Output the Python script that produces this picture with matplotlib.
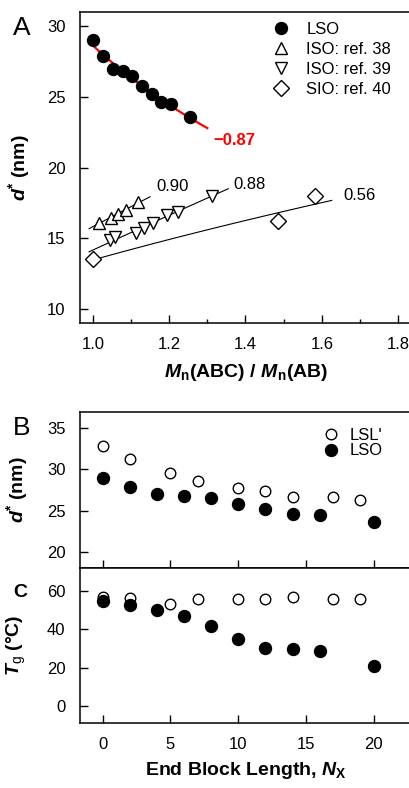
import numpy as np
import matplotlib
matplotlib.use("Agg")
from matplotlib import pyplot as plt
from matplotlib.ticker import MultipleLocator

plt.rcParams["font.family"] = "Liberation Sans"
plt.rcParams["mathtext.fontset"] = "custom"
plt.rcParams["mathtext.rm"] = "Liberation Sans"
plt.rcParams["mathtext.it"] = "Liberation Sans:italic"
plt.rcParams["mathtext.bf"] = "Liberation Sans:bold"
plt.rcParams["mathtext.bfit"] = "Liberation Sans:italic:bold"

# panel A : d* vs Mn(ABC)/Mn(AB)
lso_mn = [1.00, 1.027, 1.052, 1.078, 1.102, 1.128, 1.154, 1.178, 1.204, 1.254]
lso_d = [29.0, 27.9, 27.0, 26.8, 26.5, 25.8, 25.2, 24.6, 24.5, 23.6]
iso38_mn = [1.015, 1.047, 1.066, 1.088, 1.118]
iso38_d = [16.1, 16.45, 16.7, 17.0, 17.55]
iso39_mn = [1.045, 1.058, 1.112, 1.135, 1.158, 1.195, 1.222, 1.312]
iso39_d = [14.85, 15.05, 15.40, 15.70, 16.05, 16.65, 16.85, 17.95]
sio_mn = [1.00, 1.486, 1.582]
sio_d = [13.5, 16.2, 18.0]
exponents = [-0.87, 0.90, 0.88, 0.56]
fit_ranges = [(1.0, 1.30), (0.99, 1.15), (0.99, 1.355), (1.018, 1.626)]

# panels B and C : end block length
nx_lsl = [0, 2, 5, 7, 10, 12, 14, 17, 19]
d_lsl = [32.9, 31.3, 29.6, 28.6, 27.8, 27.4, 26.7, 26.7, 26.3]
tg_lsl = [57.0, 56.5, 53.4, 56.0, 56.0, 55.6, 56.6, 56.0, 55.6]
nx_lso = [0, 2, 4, 6, 8, 10, 12, 14, 16, 20]
d_lso = [29.0, 27.9, 27.0, 26.8, 26.5, 25.8, 25.2, 24.6, 24.5, 23.6]
tg_lso = [54.8, 52.9, 50.0, 46.9, 41.9, 35.0, 30.0, 29.8, 28.8, 20.8]

W, H = 409, 788
fig = plt.figure(figsize=(W / 100, H / 100), dpi=100)


def px_axes(left, top, right, bottom):
    return fig.add_axes([left / W, 1 - bottom / H, (right - left) / W, (bottom - top) / H])


def style(ax):
    for s in ax.spines.values():
        s.set_linewidth(1.1)
    ax.spines["right"].set_visible(False)
    ax.tick_params(which="both", direction="in", top=False, right=False,
                   labelsize=12, width=1.0)
    ax.tick_params(which="major", length=6)
    ax.tick_params(which="minor", length=3)
    ax.tick_params(axis="y", pad=10)
    ax.tick_params(axis="x", pad=10)


def power_line(ax, xs, ys, b, xr, **kw):
    # prefactor fitted for the quoted exponent
    a = np.exp(np.mean(np.log(ys) - b * np.log(xs)))
    xx = np.linspace(xr[0], xr[1], 50)
    ax.plot(xx, a * xx ** b, **kw)


axA = px_axes(79.5, 12, 413, 323)
axB = px_axes(79.5, 412, 413, 568)
axC = px_axes(79.5, 568, 413, 723)
for ax in (axA, axB, axC):
    style(ax)

# ---- A
series = [(lso_mn, lso_d), (iso38_mn, iso38_d), (iso39_mn, iso39_d), (sio_mn, sio_d)]
for (xs, ys), b, xr in zip(series, exponents, fit_ranges):
    if b < 0:
        power_line(axA, xs, ys, b, xr, color="#ff0000", lw=1.6, zorder=2)
    else:
        power_line(axA, xs, ys, b, xr, color="black", lw=0.8, zorder=2)

axA.plot(lso_mn, lso_d, "o", ms=8.6, color="black", label="LSO", zorder=3)
axA.plot(iso38_mn, iso38_d, "^", ms=9, mfc="white", mec="black", mew=1.0,
         label="ISO: ref. 38", zorder=3)
axA.plot(iso39_mn, iso39_d, "v", ms=9, mfc="white", mec="black", mew=1.0,
         label="ISO: ref. 39", zorder=3)
axA.plot(sio_mn, sio_d, "D", ms=8, mfc="white", mec="black", mew=1.0,
         label="SIO: ref. 40", zorder=3)

axA.text(1.315, 21.9, "\u22120.87", color="#ff0000", fontsize=12,
         fontweight="bold", va="center")
axA.text(1.167, 18.65, "0.90", fontsize=12, va="center")
axA.text(1.368, 18.77, "0.88", fontsize=12, va="center")
axA.text(1.657, 17.99, "0.56", fontsize=12, va="center")

axA.set_xlim(0.965, 1.839)
axA.set_ylim(9.0, 31.0)
axA.xaxis.set_major_locator(MultipleLocator(0.2))
axA.xaxis.set_minor_locator(MultipleLocator(0.1))
axA.yaxis.set_major_locator(MultipleLocator(5))
axA.xaxis.set_major_formatter(matplotlib.ticker.FormatStrFormatter("%.1f"))
axA.set_xlabel(r"$\mathbfit{M}_{\mathbf{n}}$(ABC) / $\mathbfit{M}_{\mathbf{n}}$(AB)",
               fontsize=14, fontweight="bold", labelpad=7)
axA.set_ylabel(r"$\mathbfit{d}^{\mathbf{*}}$ (nm)", fontsize=14, fontweight="bold")
axA.yaxis.set_label_coords(-0.142, 0.5)
axA.legend(loc="upper left", bbox_to_anchor=(0.58, 0.967), frameon=False,
           fontsize=12, handlelength=1.0, handletextpad=1.0, labelspacing=0.3,
           borderpad=0, borderaxespad=0, numpoints=1)

# ---- B
axB.plot(nx_lsl, d_lsl, "o", ms=7.6, mfc="white", mec="black", mew=1.0, label="LSL'")
axB.plot(nx_lso, d_lso, "o", ms=8.6, color="black", label="LSO")
axB.set_xlim(-1.7, 22.88)
axB.set_ylim(18, 37)
axB.xaxis.set_major_locator(MultipleLocator(5))
axB.yaxis.set_major_locator(MultipleLocator(5))
axB.tick_params(axis="x", labelbottom=False)
axB.set_ylabel(r"$\mathbfit{d}^{\mathbf{*}}$ (nm)", fontsize=14, fontweight="bold")
axB.yaxis.set_label_coords(-0.148, 0.5)
axB.legend(loc="upper left", bbox_to_anchor=(0.735, 0.9), frameon=False,
           fontsize=12, handlelength=0.8, handletextpad=0.7, labelspacing=0.05,
           borderpad=0, borderaxespad=0, numpoints=1)

# ---- C
axC.plot(nx_lsl, tg_lsl, "o", ms=7.6, mfc="white", mec="black", mew=1.0)
axC.plot(nx_lso, tg_lso, "o", ms=8.6, color="black")
axC.set_xlim(-1.7, 22.88)
axC.set_ylim(-9, 72)
axC.xaxis.set_major_locator(MultipleLocator(5))
axC.yaxis.set_major_locator(MultipleLocator(20))
axC.set_xlabel(r"End Block Length, $\mathbfit{N}_{\mathbf{X}}$", fontsize=14,
               fontweight="bold", labelpad=6)
axC.set_ylabel(r"$\mathbfit{T}_{\mathrm{g}}$ (°C)", fontsize=14, fontweight="bold")
axC.yaxis.set_label_coords(-0.155, 0.5)

# panel letters
fig.text(13 / W, 1 - 35 / H, "A", fontsize=19, va="baseline")
fig.text(13 / W, 1 - 435 / H, "B", fontsize=19, va="baseline")
fig.text(13 / W, 1 - 597 / H, "C", fontsize=14, fontweight="bold", va="baseline")

fig.savefig("out.png", dpi=100)
